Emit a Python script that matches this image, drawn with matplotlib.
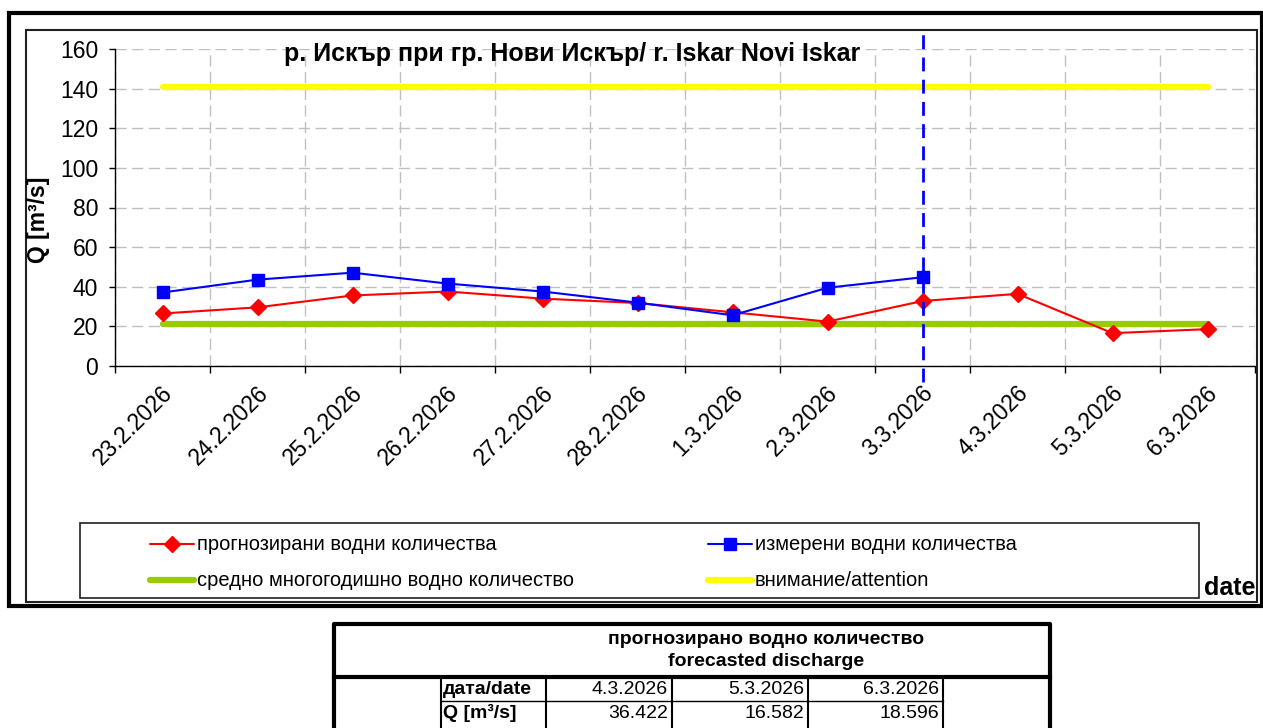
import matplotlib
matplotlib.use("Agg")
import matplotlib.pyplot as plt
import matplotlib.transforms as mtransforms
from matplotlib.patches import Rectangle
from matplotlib.lines import Line2D

plt.rcParams['font.family'] = ['Liberation Sans', 'DejaVu Sans']

# ---------------- data ----------------
dates = ["23.2.2026", "24.2.2026", "25.2.2026", "26.2.2026", "27.2.2026", "28.2.2026",
         "1.3.2026", "2.3.2026", "3.3.2026", "4.3.2026", "5.3.2026", "6.3.2026"]
forecast = [26.5, 29.6, 35.6, 37.6, 34.0, 31.8, 27.1, 22.4, 32.8, 36.422, 16.582, 18.596]
measured = [37.1, 43.6, 47.1, 41.6, 37.6, 32.0, 25.6, 39.5, 44.8]
mean_q = [21.0] * len(dates)
attention = [141.0] * len(dates)
today_index = 8
yticks = [0, 20, 40, 60, 80, 100, 120, 140, 160]

title = "р. Искър при гр. Нови Искър/ r. Iskar Novi Iskar"
ylabel = "Q [m³/s]"
legend_labels = ["прогнозирани водни количества", "измерени водни количества",
                 "средно многогодишно водно количество", "внимание/attention"]
table_title = ["прогнозирано водно количество", "forecasted discharge"]
table_row_labels = ["дата/date", "Q [m³/s]"]
table_dates = ["4.3.2026", "5.3.2026", "6.3.2026"]
table_values = ["36.422", "16.582", "18.596"]

W, H = 1263, 728
fig = plt.figure(figsize=(W / 100, H / 100), dpi=100)


def fx(x):
    return x / W


def fy(y):
    return 1 - y / H


# outer frames
fig.add_artist(Rectangle((fx(9), fy(606)), fx(1262) - fx(9), fy(13) - fy(606),
                         fill=False, lw=3.0, ec='black', transform=fig.transFigure))
fig.add_artist(Rectangle((fx(26), fy(602)), fx(1257) - fx(26), fy(30) - fy(602),
                         fill=False, lw=1.5, ec='#202020', transform=fig.transFigure))

# ---------------- axes ----------------
ax_l, ax_r, ax_t, ax_b = 115, 1255, 49, 366
ax = fig.add_axes([fx(ax_l), fy(ax_b), fx(ax_r) - fx(ax_l), fy(ax_t) - fy(ax_b)])
x = list(range(len(dates)))

ax.plot(x, attention, color='#ffff00', lw=4.5, solid_capstyle='round', zorder=3)
ax.plot(x, mean_q, color='#99cc00', lw=4.5, solid_capstyle='round', zorder=3)
ax.plot(x, forecast, color='#ff0000', lw=1.5, marker='D', markersize=8.5,
        markerfacecolor='#ff0000', markeredgecolor='#ff0000', zorder=4)
ax.plot(x[:len(measured)], measured, color='#0000ff', lw=1.5, marker='s', markersize=9,
        markerfacecolor='#0000ff', markeredgecolor='#0000ff', zorder=5)
ax.axvline(today_index, ymin=-0.05, ymax=1.062, color='#0000ff', lw=2,
           dashes=(5, 3), clip_on=False, zorder=6)

ax.set_xlim(-0.5, len(dates) - 0.5)
ax.set_ylim(0, 160)
ax.set_yticks(yticks)
ax.tick_params(axis='y', labelsize=16.5, length=4, width=1, direction='out', pad=8)
ax.set_xticks([i - 0.5 for i in range(len(dates) + 1)])
ax.set_xticklabels([])
ax.set_xticks(x, minor=True)
ax.set_xticklabels(dates, minor=True, rotation=45, fontsize=16.5)
ax.tick_params(axis='x', which='major', length=5, width=1, direction='out')
ax.tick_params(axis='x', which='minor', length=0, pad=17)
offset = mtransforms.ScaledTranslation(7 / 100, 0, fig.dpi_scale_trans)
for lab in ax.get_xticklabels(minor=True):
    lab.set_horizontalalignment('right')
    lab.set_verticalalignment('center')
    lab.set_rotation_mode('anchor')
    lab.set_transform(lab.get_transform() + offset)

ax.grid(True, which='major', color='#c0c0c0', lw=1, dashes=(8, 4))
for s in ['top', 'right']:
    ax.spines[s].set_visible(False)
ax.spines['left'].set_linewidth(1)
ax.spines['bottom'].set_linewidth(1)

ax.text(0.401, 0.985, title, transform=ax.transAxes, ha='center', va='center',
        fontsize=18, fontweight='bold', zorder=7)
fig.text(fx(38), fy(220), ylabel, rotation=90, ha='center', va='center',
         fontsize=16.5, fontweight='bold')
fig.text(fx(1230), fy(588), "date", ha='center', va='center', fontsize=18, fontweight='bold')

# ---------------- legend ----------------
fig.add_artist(Rectangle((fx(80), fy(598)), fx(1199) - fx(80), fy(523) - fy(598),
                         fill=False, lw=1.2, ec='#202020', transform=fig.transFigure))
leg_items = [
    (150, 544, dict(color='#ff0000', lw=1.5, marker='D', markersize=8.5), legend_labels[0]),
    (708, 544, dict(color='#0000ff', lw=1.5, marker='s', markersize=9), legend_labels[1]),
    (150, 580, dict(color='#99cc00', lw=4.5), legend_labels[2]),
    (708, 580, dict(color='#ffff00', lw=4.5), legend_labels[3]),
]
for x0, y0, style, lab in leg_items:
    xs = [fx(x0), fx(x0 + 22), fx(x0 + 44)]
    ys = [fy(y0)] * 3
    ln = Line2D(xs, ys, transform=fig.transFigure, markevery=[1], solid_capstyle='round', **style)
    fig.add_artist(ln)
    fig.text(fx(x0 + 47), fy(y0), lab, ha='left', va='center', fontsize=14.5)

# ---------------- table ----------------
tl, tr, tt = 334, 1050, 624
fig.add_artist(Line2D([fx(tl), fx(tl), fx(tr), fx(tr)], [fy(730), fy(tt), fy(tt), fy(730)],
                      transform=fig.transFigure, color='black', lw=3))
fig.add_artist(Line2D([fx(tl), fx(tr)], [fy(677), fy(677)], transform=fig.transFigure,
                      color='black', lw=3))
fig.text(fx(766), fy(640), table_title[0], ha='center', va='center', fontsize=14, fontweight='bold')
fig.text(fx(766), fy(662), table_title[1], ha='center', va='center', fontsize=14, fontweight='bold')

col_edges = [441, 546, 672, 808, 943]
for xe in col_edges:
    fig.add_artist(Line2D([fx(xe), fx(xe)], [fy(677), fy(730)], transform=fig.transFigure,
                          color='black', lw=1.5))
fig.add_artist(Line2D([fx(441), fx(943)], [fy(701), fy(701)], transform=fig.transFigure,
                      color='black', lw=1.0))
fig.text(fx(443), fy(689), table_row_labels[0], ha='left', va='center', fontsize=14, fontweight='bold')
fig.text(fx(443), fy(713), table_row_labels[1], ha='left', va='center', fontsize=14, fontweight='bold')
for i in range(3):
    fig.text(fx(col_edges[i + 2] - 4), fy(689), table_dates[i], ha='right', va='center', fontsize=14)
    fig.text(fx(col_edges[i + 2] - 4), fy(714), table_values[i], ha='right', va='center', fontsize=14)

fig.savefig("out.png", dpi=100)
